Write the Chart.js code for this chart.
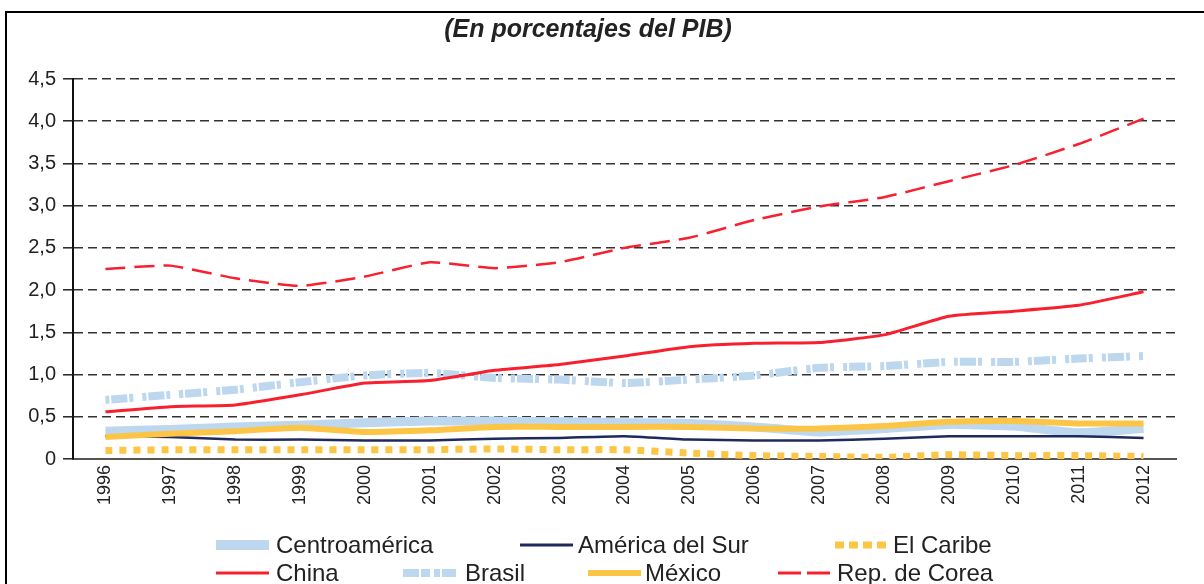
<!DOCTYPE html>
<html>
<head>
<meta charset="utf-8">
<script src="https://cdn.jsdelivr.net/npm/chart.js@4.4.0/dist/chart.umd.min.js"></script>
<style>
html,body{margin:0;padding:0;background:#fff;}
#wrap{position:relative;width:1204px;height:584px;overflow:hidden;}
#frame{position:absolute;left:5px;top:11px;width:1210px;height:600px;border-left:2px solid #000;border-top:2px solid #000;box-sizing:border-box;pointer-events:none;}
canvas{position:absolute;left:0;top:0;}
</style>
</head>
<body>
<div id="wrap">
<canvas id="c" width="1204" height="584"></canvas>
<div id="frame"></div>
</div>
<script>
const years = ["1996","1997","1998","1999","2000","2001","2002","2003","2004","2005","2006","2007","2008","2009","2010","2011","2012"];
const centroamerica = [0.33,0.35,0.38,0.40,0.43,0.45,0.45,0.44,0.43,0.42,0.38,0.32,0.36,0.41,0.39,0.31,0.36];
const americaDelSur = [0.27,0.26,0.23,0.23,0.22,0.22,0.24,0.25,0.27,0.23,0.22,0.22,0.24,0.27,0.27,0.27,0.25];
const elCaribe = [0.10,0.11,0.11,0.11,0.11,0.11,0.12,0.11,0.11,0.07,0.04,0.03,0.02,0.05,0.04,0.04,0.03];
const china = [0.56,0.62,0.64,0.76,0.90,0.93,1.05,1.12,1.22,1.33,1.37,1.38,1.47,1.69,1.75,1.82,1.98];
const brasil = [0.70,0.76,0.82,0.91,0.99,1.02,0.96,0.94,0.90,0.94,0.99,1.08,1.10,1.15,1.15,1.19,1.22];
const mexico = [0.26,0.30,0.33,0.37,0.32,0.34,0.38,0.38,0.38,0.38,0.36,0.36,0.39,0.44,0.45,0.42,0.42];
const corea = [2.25,2.29,2.14,2.05,2.16,2.33,2.26,2.33,2.50,2.62,2.83,2.99,3.10,3.29,3.48,3.73,4.03];
const yTicks = [0,0.5,1,1.5,2,2.5,3,3.5,4,4.5];
const title = "(En porcentajes del PIB)";

const LIGHTBLUE = "#bdd7ee";
const NAVY = "#1f2a5c";
const YELLOW = "#fdc545";
const RED = "#f8202e";
const FONT = "'Liberation Sans', Arial, sans-serif";

const series = [
  {label:"Centroamérica", data:centroamerica, color:LIGHTBLUE, width:9, dash:[], legW:10, legDash:[], order:6},
  {label:"América del Sur", data:americaDelSur, color:NAVY, width:2.5, dash:[], legW:3, legDash:[], order:3},
  {label:"El Caribe", data:elCaribe, color:YELLOW, width:7, dash:[7,7], legW:7, legDash:[9,5], order:4},
  {label:"China", data:china, color:RED, width:3, dash:[], legW:3, legDash:[], order:1},
  {label:"Brasil", data:brasil, color:LIGHTBLUE, width:8, dash:[4,2,16,2,4,9], legW:8, legDash:[16,2,9,4,6,2,20], order:5},
  {label:"México", data:mexico, color:YELLOW, width:6, dash:[], legW:6, legDash:[], order:2},
  {label:"Rep. de Corea", data:corea, color:RED, width:2.5, dash:[20,9], legW:3, legDash:[23,6], order:0}
];

const legendPos = [
  {x:216, y:545, tx:276},
  {x:520, y:545, tx:578},
  {x:835, y:545, tx:893},
  {x:216, y:573, tx:276},
  {x:403, y:573, tx:465},
  {x:588, y:573, tx:645},
  {x:778, y:573, tx:837}
];

const legendPlugin = {
  id:'customLegend',
  afterDraw(chart){
    const ctx = chart.ctx;
    ctx.save();
    series.forEach((s,i)=>{
      const p = legendPos[i];
      ctx.beginPath();
      ctx.strokeStyle = s.color;
      ctx.lineWidth = s.legW;
      ctx.setLineDash(s.legDash);
      ctx.lineCap = 'butt';
      ctx.moveTo(p.x, p.y);
      ctx.lineTo(p.x+53, p.y);
      ctx.stroke();
      ctx.setLineDash([]);
      ctx.fillStyle = "#222";
      ctx.font = "24px " + FONT;
      ctx.textBaseline = 'middle';
      ctx.textAlign = 'left';
      ctx.fillText(s.label, p.tx, p.y+1);
    });
    ctx.restore();
  }
};

new Chart(document.getElementById('c'), {
  type:'line',
  data:{
    labels:years,
    datasets:series.map(s=>({
      label:s.label,
      data:s.data,
      borderColor:s.color,
      backgroundColor:s.color,
      borderWidth:s.width,
      borderDash:s.dash,
      borderCapStyle:'butt',
      pointRadius:0,
      tension:0.15,
      fill:false,
      order:s.order
    }))
  },
  plugins:[legendPlugin],
  options:{
    responsive:false,
    animation:false,
    layout:{padding:{left:0,right:28,top:0,bottom:0}},
    plugins:{
      legend:{display:false},
      tooltip:{enabled:false},
      title:{
        display:true,
        text:title,
        color:"#222",
        font:{family:FONT, size:25, style:'italic', weight:'bold'},
        padding:{top:15, bottom:34}
      }
    },
    scales:{
      x:{
        offset:true,
        grid:{display:false, drawTicks:false},
        border:{display:true, color:"#555", width:2},
        ticks:{
          color:"#222",
          minRotation:90, maxRotation:90,
          padding:6,
          font:{family:FONT, size:18}
        },
        afterFit(scale){ scale.height = 125; }
      },
      y:{
        min:0, max:4.5,
        afterBuildTicks(scale){ scale.ticks = yTicks.map(v=>({value:v})); },
        grid:{
          color:(ctx)=> ctx.tick && ctx.tick.value===0 ? 'rgba(0,0,0,0)' : '#333',
          lineWidth:1.6,
          tickLength:10,
          tickColor:'#222',
          tickWidth:1.5,
          tickBorderDash:[]
        },
        border:{display:true, color:"#111", width:2, dash:[9,5]},
        ticks:{
          color:"#222",
          padding:7,
          font:{family:FONT, size:20},
          callback:(v)=> v===0 ? "0" : v.toFixed(1).replace('.',',')
        },
        afterFit(scale){ scale.width = 73; }
      }
    }
  }
});
</script>
</body>
</html>
